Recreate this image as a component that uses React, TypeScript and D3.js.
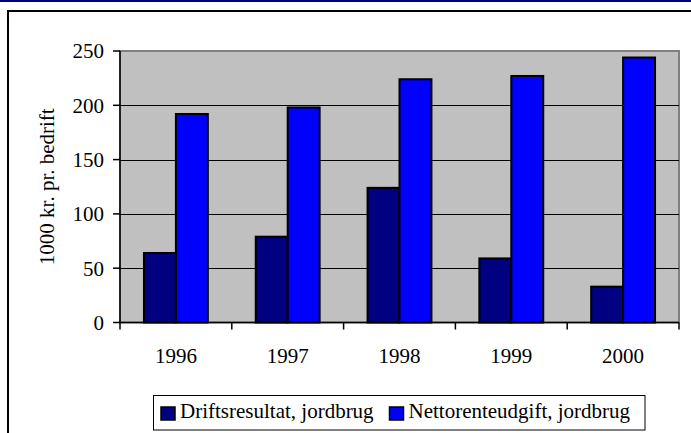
import React from "react";
import * as d3 from "d3";

const years = ["1996", "1997", "1998", "1999", "2000"];
const seriesNames = ["Driftsresultat, jordbrug", "Nettorenteudgift, jordbrug"];
const driftsresultat = [64, 79, 124, 59, 33];
const nettorente = [192, 198, 224, 227, 244];
const yTicks = [0, 50, 100, 150, 200, 250];
const colors = ["#000080", "#0000FF"];

const W = 691;
const H = 433;
const FONT = "'Liberation Serif', 'Times New Roman', serif";

export default function App() {
  const plot = { left: 120, right: 679, top: 51, bottom: 322.5 };
  const y = d3.scaleLinear().domain([0, 250]).range([plot.bottom, plot.top]);
  const x0 = d3.scaleBand<string>().domain(years).range([plot.left, plot.right]).paddingInner(0).paddingOuter(0);
  const x1 = d3.scaleBand<string>().domain(seriesNames).range([0, x0.bandwidth()]).paddingInner(0).paddingOuter(0.75);
  const values = [driftsresultat, nettorente];

  const boundaries = years.map((yr) => x0(yr) as number).concat([plot.right]);

  return (
    <svg width={W} height={H} style={{ position: "absolute", left: 0, top: 0, background: "#fff" }}>
      {/* top navy strip */}
      <rect x={0} y={0} width={W} height={2} fill="#000080" />
      {/* outer chart frame */}
      <rect x={8} y={11} width={W + 10} height={H + 10} fill="#fff" stroke="#000" strokeWidth={2} />
      {/* plot area */}
      <rect x={plot.left} y={plot.top} width={plot.right - plot.left} height={plot.bottom - plot.top} fill="#C0C0C0" stroke="#808080" strokeWidth={2} />
      {/* gridlines */}
      {yTicks.filter((t) => t > 0 && t < 250).map((t) => (
        <line key={"g" + t} x1={plot.left} x2={plot.right} y1={Math.round(y(t)) + 0.5} y2={Math.round(y(t)) + 0.5} stroke="#000" strokeWidth={1} />
      ))}
      {/* bars */}
      {years.map((yr, i) => (
        <g key={yr} transform={`translate(${x0(yr)},0)`}>
          {seriesNames.map((s, j) => (
            <rect
              key={s}
              x={x1(s) as number}
              y={y(values[j][i])}
              width={x1.bandwidth()}
              height={plot.bottom - y(values[j][i])}
              fill={colors[j]}
              stroke="#000"
              strokeWidth={2}
            />
          ))}
        </g>
      ))}
      {/* y axis */}
      <line x1={plot.left} x2={plot.left} y1={plot.top} y2={plot.bottom} stroke="#000" strokeWidth={1.5} />
      {yTicks.map((t) => (
        <g key={"y" + t}>
          <line x1={plot.left - 7} x2={plot.left} y1={y(t)} y2={y(t)} stroke="#000" strokeWidth={1.5} />
          <text x={104} y={y(t)} dy="0.35em" textAnchor="end" fontFamily={FONT} fontSize={21} fill="#000">
            {t}
          </text>
        </g>
      ))}
      {/* x axis */}
      <line x1={plot.left} x2={plot.right} y1={plot.bottom} y2={plot.bottom} stroke="#000" strokeWidth={1.5} />
      {boundaries.map((b, i) => (
        <line key={"xt" + i} x1={b} x2={b} y1={plot.bottom} y2={plot.bottom + 7} stroke="#000" strokeWidth={1.5} />
      ))}
      {years.map((yr) => (
        <text key={"xl" + yr} x={(x0(yr) as number) + x0.bandwidth() / 2} y={363} textAnchor="middle" fontFamily={FONT} fontSize={21} fill="#000">
          {yr}
        </text>
      ))}
      {/* y axis title */}
      <text
        transform={`translate(54,${(plot.top + plot.bottom) / 2}) rotate(-90)`}
        textAnchor="middle"
        fontFamily={FONT}
        fontSize={21}
        fill="#000"
      >
        1000 kr. pr. bedrift
      </text>
      {/* legend */}
      <rect x={153.5} y={395.5} width={491.5} height={34.5} fill="#fff" stroke="#000" strokeWidth={1} />
      {seriesNames.map((s, j) => {
        const lx = j === 0 ? 161 : 389.5;
        return (
          <g key={"lg" + s}>
            <rect x={lx} y={407} width={14} height={13} fill={colors[j]} stroke="#000" strokeWidth={1.5} />
            <text x={lx + 19} y={418} fontFamily={FONT} fontSize={21} fill="#000">
              {s}
            </text>
          </g>
        );
      })}
    </svg>
  );
}
